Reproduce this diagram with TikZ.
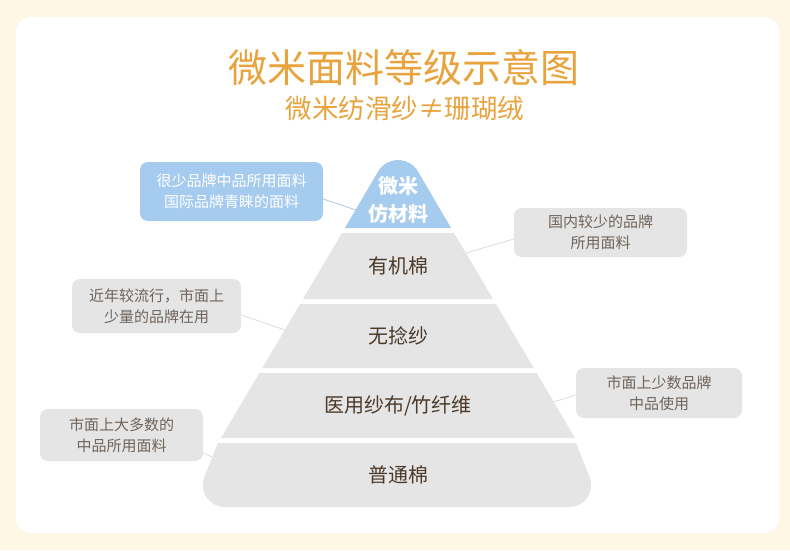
\documentclass[tikz,border=0pt]{standalone}
\usepackage{fontspec}
\setmainfont{Noto Sans CJK SC}
\usepackage{xcolor}
\usetikzlibrary{calc}
\definecolor{cream}{HTML}{FEF7E6}
\definecolor{titleorange}{HTML}{E8A33D}
\definecolor{tierblue}{HTML}{A5CBEE}
\definecolor{tiergray}{HTML}{E5E5E5}
\definecolor{tiertext}{HTML}{4B3A2A}
\definecolor{notetext}{HTML}{6F645C}
\definecolor{linegray}{HTML}{DCDCDC}
\tikzset{
  tierlabel/.style={font=\fontsize{20}{28}\selectfont, text=tiertext, align=center},
  notebox/.style={
    rectangle, rounded corners=8pt, fill=tiergray, text=notetext,
    align=center, inner sep=0pt, font=\fontsize{15}{21}\selectfont
  },
  noteline/.style={draw=linegray, line width=0.8pt},
}

\begin{document}
\begin{tikzpicture}[x=1pt,y=-1pt]
  \fill[cream] (0,0) rectangle (790,550);
  \fill[white, rounded corners=15pt] (16,17) rectangle (779,533);

  \node[font=\fontsize{39}{44}\selectfont, text=titleorange] (title) at (404,68) {微米面料等级示意图};
  \node[font=\fontsize{26.5}{30}\selectfont, text=titleorange] (subtitle) at (405,109) {微米纺滑纱≠珊瑚绒};

  % pyramid
  \coordinate (t1l) at (344.9,228);
  \coordinate (t1r) at (451.1,228);
  \fill[tierblue] (t1l) -- (378.1,171.5) arc[start angle=210, end angle=330, radius=23] -- (t1r) -- cycle;
  \foreach \ya/\yb in {233/299, 304/368, 373/438}
    \fill[tiergray] ({398-0.59*(\ya-138)},\ya) -- ({398+0.59*(\ya-138)},\ya)
      -- ({398+0.59*(\yb-138)},\yb) -- ({398-0.59*(\yb-138)},\yb) -- cycle;
  \fill[tiergray] (218,443) -- (576,443) -- (589.6,476.9) arc[start angle=-21.7, end angle=90, radius=22]
    -- (224.8,507) arc[start angle=90, end angle=201.7, radius=22] -- cycle;

  \node[tierlabel, text=white, font=\bfseries\fontsize{20}{28}\selectfont] (t1) at (398,199.5) {微米\\仿材料};
  \node[tierlabel] (t2) at (398,266) {有机棉};
  \node[tierlabel] (t3) at (398,336) {无捻纱};
  \node[tierlabel] (t4) at (398,405.5) {医用纱布/竹纤维};
  \node[tierlabel] (t5) at (398,475) {普通棉};

  % notes
  \node[notebox, fill=tierblue, text=white, minimum width=183pt, minimum height=59pt] (nblue) at (231.5,191.5) {很少品牌中品所用面料\\国际品牌青睐的面料};
  \node[notebox, minimum width=173pt, minimum height=49pt] (ndom) at (600.5,232.5) {国内较少的品牌\\所用面料};
  \node[notebox, minimum width=169pt, minimum height=54pt] (npop) at (156.5,306) {近年较流行，市面上\\少量的品牌在用};
  \node[notebox, minimum width=166pt, minimum height=50pt] (nfew) at (659,393) {市面上少数品牌\\中品使用};
  \node[notebox, minimum width=163pt, minimum height=52pt] (nmost) at (121.5,435) {市面上大多数的\\中品所用面料};

  \coordinate (pblue) at (356,210);
  \coordinate (pdom) at (466,253);
  \coordinate (ppop) at (285,330);
  \coordinate (pfew) at (553.5,402);
  \coordinate (pmost) at (212,457);
  \draw[noteline, draw=tierblue] ([yshift=-7.5pt]nblue.east) -- (pblue);
  \foreach \n/\a/\s/\p in {ndom/west/-6.5/pdom, npop/east/-9/ppop, nfew/west/-2/pfew, nmost/east/-18/pmost}
    \draw[noteline] ([yshift=\s pt]\n.\a) -- (\p);
\end{tikzpicture}
\end{document}
